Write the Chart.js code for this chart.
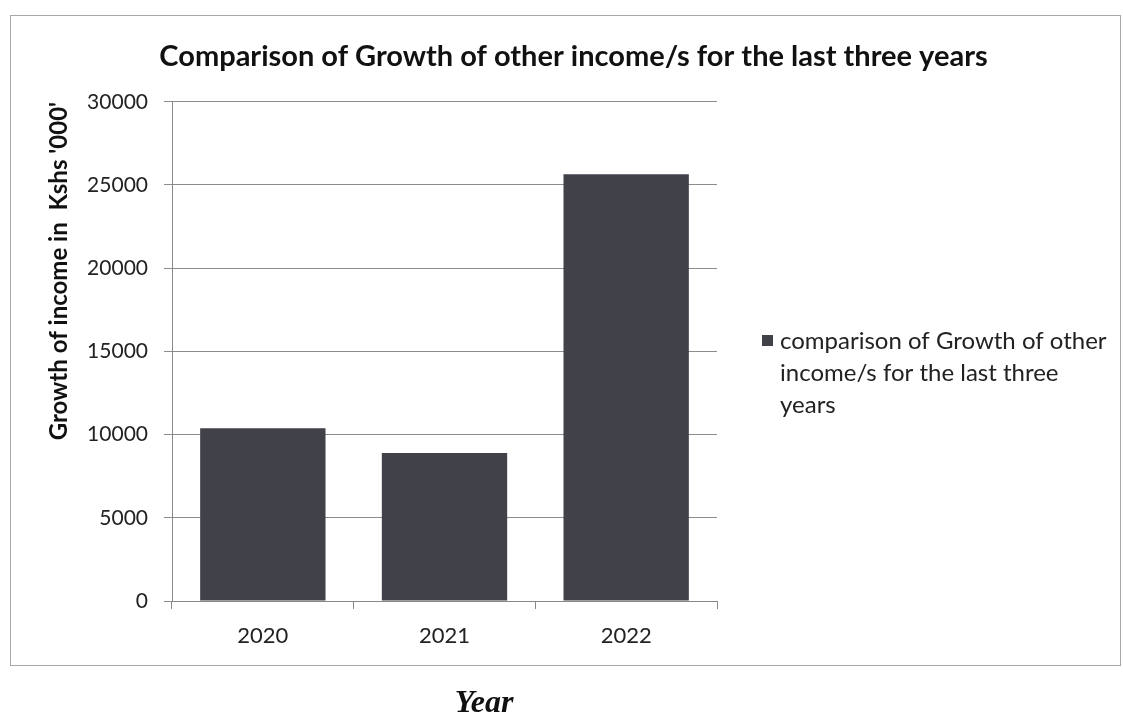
<!DOCTYPE html>
<html>
<head>
<meta charset="utf-8">
<title>Growth of other income</title>
<script src="https://cdn.jsdelivr.net/npm/chart.js@4.4.0/dist/chart.umd.min.js"></script>
<style>
  html, body { margin: 0; padding: 0; background: #fff; }
  #wrap { position: relative; width: 1123px; height: 716px; }
</style>
</head>
<body>
<div id="wrap"><canvas id="incomeChart" width="1123" height="716"></canvas></div>
<script>
const years = ['2020', '2021', '2022'];
const growth = [10380, 8900, 25650];
const seriesName = 'comparison of Growth of other income/s for the last three years';
const chartTitle = 'Comparison of Growth of other income/s for the last three years';
const yAxisTitle = "Growth of income in  Kshs '000'";
const xAxisTitle = 'Year';
const yMax = 30000;
const yStep = 5000;

const FONT = 'Lato, "Open Sans", sans-serif';

// frame around the chart, the wrapped legend on the right and the "Year" caption underneath
const extras = {
    id: 'extras',
    beforeDraw(chart) {
        const c = chart.ctx;
        c.save();
        c.strokeStyle = '#a8a8a8';
        c.lineWidth = 1;
        c.strokeRect(10.5, 15.5, 1110, 650);
        c.restore();
    },
    afterDraw(chart) {
        const c = chart.ctx;
        const ds = chart.data.datasets[0];
        c.save();
        // legend marker
        c.fillStyle = ds.backgroundColor;
        c.fillRect(762, 335, 11, 11);
        // legend text, wrapped
        c.font = '24px ' + FONT;
        c.fillStyle = '#222';
        c.textBaseline = 'middle';
        const words = ds.label.split(' ');
        const lines = [];
        let line = '';
        words.forEach(w => {
            const test = line ? line + ' ' + w : w;
            if (c.measureText(test).width > 336 && line) {
                lines.push(line);
                line = w;
            } else {
                line = test;
            }
        });
        lines.push(line);
        lines.forEach((l, i) => c.fillText(l, 780, 341 + i * 32));
        // caption below the frame
        c.font = 'italic bold 32px "Liberation Serif", "DejaVu Serif", serif';
        c.fillStyle = '#111';
        c.textAlign = 'center';
        c.textBaseline = 'alphabetic';
        c.fillText(xAxisTitle, 484, 712);
        c.restore();
    }
};

const ctx = document.getElementById('incomeChart').getContext('2d');
const incomeChart = new Chart(ctx, {
    type: 'bar',
    data: {
        labels: years,
        datasets: [{
            label: seriesName,
            data: growth,
            backgroundColor: '#404149',
            borderWidth: 0,
            barPercentage: 1,
            categoryPercentage: 0.69
        }]
    },
    options: {
        responsive: false,
        animation: false,
        layout: {
            padding: { left: 24, right: 0, top: 0, bottom: 55 }
        },
        plugins: {
            legend: { display: false },
            tooltip: { enabled: false },
            title: {
                display: true,
                text: chartTitle,
                color: '#111',
                font: { family: FONT, size: 29, weight: 'bold' },
                padding: { top: 39, bottom: 28 }
            }
        },
        scales: {
            x: {
                offset: true,
                afterFit(scale) { scale.height = 60; },
                grid: {
                    display: true,
                    offset: true,
                    drawOnChartArea: false,
                    drawTicks: true,
                    tickLength: 8,
                    color: '#888'
                },
                border: { display: true, color: '#888', width: 1 },
                ticks: {
                    color: '#222',
                    font: { family: FONT, size: 22 },
                    padding: 14
                }
            },
            y: {
                min: 0,
                max: yMax,
                afterFit(scale) { scale.width = 148; },
                grid: {
                    color: '#8c8c8c',
                    lineWidth: 1,
                    tickLength: 8
                },
                border: { display: true, color: '#888', width: 1 },
                ticks: {
                    stepSize: yStep,
                    color: '#222',
                    font: { family: FONT, size: 21 },
                    padding: 16,
                    callback: v => String(v)
                },
                title: {
                    display: true,
                    text: yAxisTitle,
                    align: 'end',
                    color: '#111',
                    font: { family: FONT, size: 24, weight: 'bold' },
                    padding: { top: 21, bottom: 0 }
                }
            },
            // empty axis on the right that keeps room for the legend
            legendSpace: {
                type: 'linear',
                position: 'right',
                display: true,
                afterFit(scale) { scale.width = 406; },
                grid: { display: false },
                border: { display: false },
                ticks: { display: false }
            }
        }
    },
    plugins: [extras]
});
</script>
</body>
</html>
